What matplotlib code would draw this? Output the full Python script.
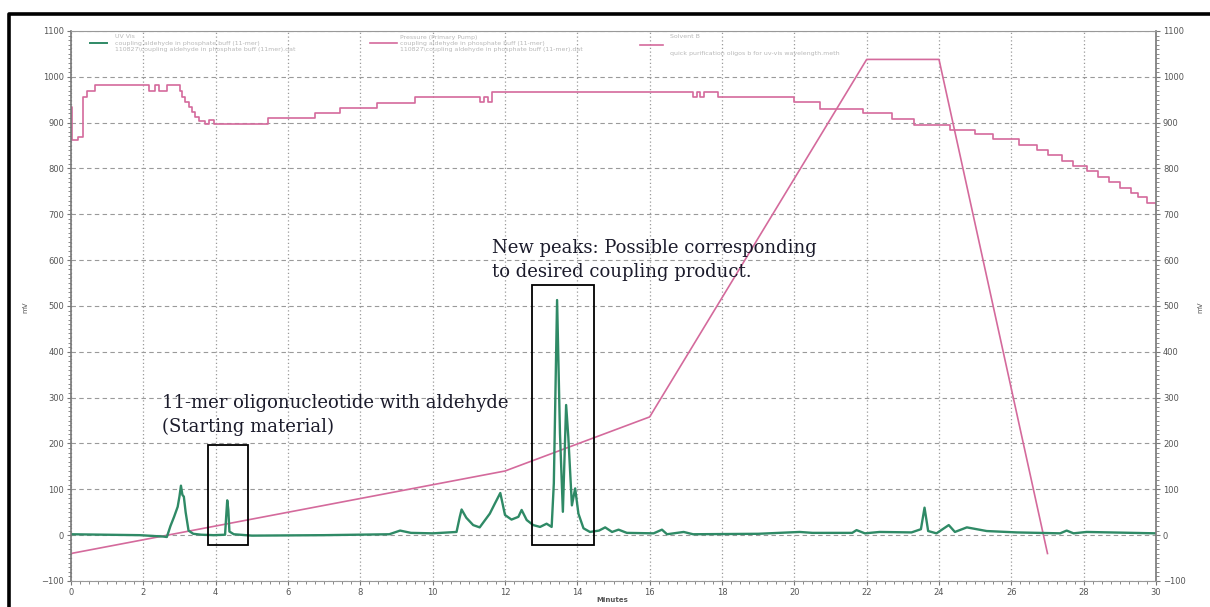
import matplotlib
matplotlib.use("Agg")
import matplotlib.pyplot as plt
from matplotlib.lines import Line2D
from matplotlib.patches import Rectangle
from matplotlib.ticker import MultipleLocator

# UV-Vis trace (mV)
uv_t = [0, 1.9, 2.55, 2.65, 2.75, 2.85, 2.95, 3.0, 3.04, 3.08, 3.12, 3.17, 3.25, 3.38,
        3.6, 3.95, 4.26, 4.29, 4.32, 4.35, 4.38, 4.5, 5.0, 7.0, 8.8, 9.1, 9.4, 10.0,
        10.66, 10.75, 10.8, 10.93, 11.12, 11.3, 11.58, 11.72, 11.87, 12.0, 12.18, 12.37,
        12.46, 12.6, 12.78, 12.97, 13.15, 13.29, 13.35, 13.44, 13.52, 13.6, 13.69, 13.75,
        13.85, 13.94, 14.03, 14.17, 14.35, 14.6, 14.77, 14.96, 15.14, 15.37, 16.11, 16.34,
        16.48, 16.94, 17.2, 19.0, 20.15, 20.5, 21.6, 21.72, 21.95, 22.36, 23.24, 23.5,
        23.6, 23.7, 23.93, 24.27, 24.44, 24.77, 25.32, 26.15, 27.35, 27.53, 27.72, 28.08, 30]
uv_v = [2, 0, -3, -4, 20, 40, 62, 85, 108, 88, 84, 50, 10, 3,
        1, 0, 1, 40, 76, 55, 8, 2, -1, 0, 2, 10, 5, 4,
        7, 40, 56, 38, 22, 17, 47, 69, 92, 44, 34, 40,
        55, 33, 22, 18, 25, 18, 113, 513, 222, 51, 284, 215,
        65, 102, 47, 15, 7, 10, 17, 7, 12, 5, 4, 12,
        2, 7, 2, 3, 7, 5, 5, 11, 4, 7, 6, 13,
        60, 9, 4, 22, 7, 17, 9, 6, 4, 10, 4, 7, 4]

# Pressure (primary pump), stepped trace
press_t = [0, 0.04, 0.18, 0.32, 0.44, 0.66, 2.15, 2.32, 2.42, 2.65, 3.0, 3.08, 3.16,
           3.25, 3.34, 3.43, 3.55, 3.7, 3.82, 3.95, 5.45, 6.75, 7.45, 8.45, 9.5, 11.3,
           11.42, 11.52, 11.65, 17.2, 17.3, 17.4, 17.5, 17.9, 20.0, 20.7, 21.9, 22.7,
           23.3, 24.3, 25.0, 25.5, 26.2, 26.7, 27.0, 27.4, 27.7, 28.1, 28.4, 28.7, 29.0,
           29.3, 29.5, 29.75, 30.0]
press_v = [935, 862, 868, 956, 968, 982, 968, 982, 968, 982, 968, 956, 944,
           935, 924, 913, 904, 897, 906, 897, 910, 922, 933, 943, 955, 946,
           955, 946, 967, 956, 967, 956, 967, 955, 944, 930, 921, 908,
           895, 884, 875, 864, 852, 840, 829, 817, 805, 795, 782, 770, 758,
           747, 737, 725, 722]

# Solvent B gradient
grad_t = [0, 12, 16, 22, 24, 27]
grad_v = [-40, 140, 258, 1038, 1038, -40]

green = "#2f8a66"
pink = "#d46a9c"

fig = plt.figure(figsize=(12.1, 6.07), dpi=100)
ax = fig.add_axes([71 / 1210, 1 - 581 / 607, (1156 - 71) / 1210, 550 / 607])

ax.plot(grad_t, grad_v, color=pink, lw=1.2)
ax.plot(press_t, press_v, color=pink, lw=1.2, drawstyle="steps-post")
ax.plot(uv_t, uv_v, color=green, lw=1.7)

ax.set_xlim(0, 30)
ax.set_ylim(-100, 1100)
ax.xaxis.set_major_locator(MultipleLocator(2))
ax.xaxis.set_minor_locator(MultipleLocator(0.25))
ax.yaxis.set_major_locator(MultipleLocator(100))
ax.yaxis.set_minor_locator(MultipleLocator(10))
ax.tick_params(which="both", right=True, labelright=True, direction="out",
               labelsize=6, labelcolor="#555555", color="#777777", pad=2)
ax.tick_params(which="major", length=3)
ax.tick_params(which="minor", length=2)
for s in ["left", "right"]:
    ax.spines[s].set_color("#777777")
    ax.spines[s].set_linewidth(1.2)
for s in ["top", "bottom"]:
    ax.spines[s].set_color("#999999")
    ax.spines[s].set_linewidth(0.8)

ax.grid(axis="y", which="major", color="#9a9a9a", ls=(0, (4, 3)), lw=0.8)
ax.grid(axis="x", which="major", color="#9a9a9a", ls=(0, (1, 2)), lw=0.9)

# boxes around peaks
ax.add_patch(Rectangle((3.79, -22), 1.1, 219, fill=False, ec="black", lw=1.3, zorder=5))
ax.add_patch(Rectangle((12.75, -21), 1.71, 567, fill=False, ec="black", lw=1.3, zorder=5))

# annotations
serif = "DejaVu Serif"
tc = "#1b1b2b"
ax.text(2.52, 277, "11-mer oligonucleotide with aldehyde", family=serif,
        fontsize=13, color=tc, va="baseline")
ax.text(2.52, 225, "(Starting material)", family=serif,
        fontsize=13, color=tc, va="baseline")
ax.text(11.64, 616, "New peaks: Possible corresponding", family=serif,
        fontsize=13, color=tc, va="baseline")
ax.text(11.64, 563, "to desired coupling product.", family=serif,
        fontsize=13, color=tc, va="baseline")

# faint legend
lg = "#b8b8b8"
fig.add_artist(Line2D([90 / 1210, 107 / 1210], [1 - 43 / 607] * 2, color=green, lw=1.4))
fig.add_artist(Line2D([370 / 1210, 397 / 1210], [1 - 43 / 607] * 2, color=pink, lw=1.2))
fig.add_artist(Line2D([640 / 1210, 663 / 1210], [1 - 45 / 607] * 2, color=pink, lw=1.2))
fig.text(115 / 1210, 1 - 37 / 607, "UV Vis", fontsize=4.5, color=lg, va="center")
fig.text(115 / 1210, 1 - 43.5 / 607, "coupling aldehyde in phosphate buff (11-mer)",
         fontsize=4.5, color=lg, va="center")
fig.text(115 / 1210, 1 - 50 / 607, "110827\\coupling aldehyde in phosphate buff (11mer).dat",
         fontsize=4.5, color=lg, va="center")
fig.text(400 / 1210, 1 - 37 / 607, "Pressure (Primary Pump)", fontsize=4.5, color=lg, va="center")
fig.text(400 / 1210, 1 - 43.5 / 607, "coupling aldehyde in phosphate buff (11-mer)",
         fontsize=4.5, color=lg, va="center")
fig.text(400 / 1210, 1 - 50 / 607, "110827\\coupling aldehyde in phosphate buff (11-mer).dat",
         fontsize=4.5, color=lg, va="center")
fig.text(670 / 1210, 1 - 37 / 607, "Solvent B", fontsize=4.5, color=lg, va="center")
fig.text(670 / 1210, 1 - 53 / 607, "quick purification oligos b for uv-vis wavelength.meth",
         fontsize=4.5, color=lg, va="center")

# axis labels
fig.text(25 / 1210, 1 - 307 / 607, "mV", fontsize=5, color="#555555", rotation=90,
         ha="center", va="center")
fig.text(1200 / 1210, 1 - 307 / 607, "mV", fontsize=5, color="#555555", rotation=90,
         ha="center", va="center")
fig.text(612 / 1210, 1 - 600 / 607, "Minutes", fontsize=5, color="#555555",
         weight="bold", ha="center", va="center")

# black frame on left and top
fig.add_artist(Line2D([9 / 1210, 9 / 1210, 1], [0, 1 - 14 / 607, 1 - 14 / 607],
                      color="black", lw=2.6))

fig.savefig("out.png", dpi=100)
